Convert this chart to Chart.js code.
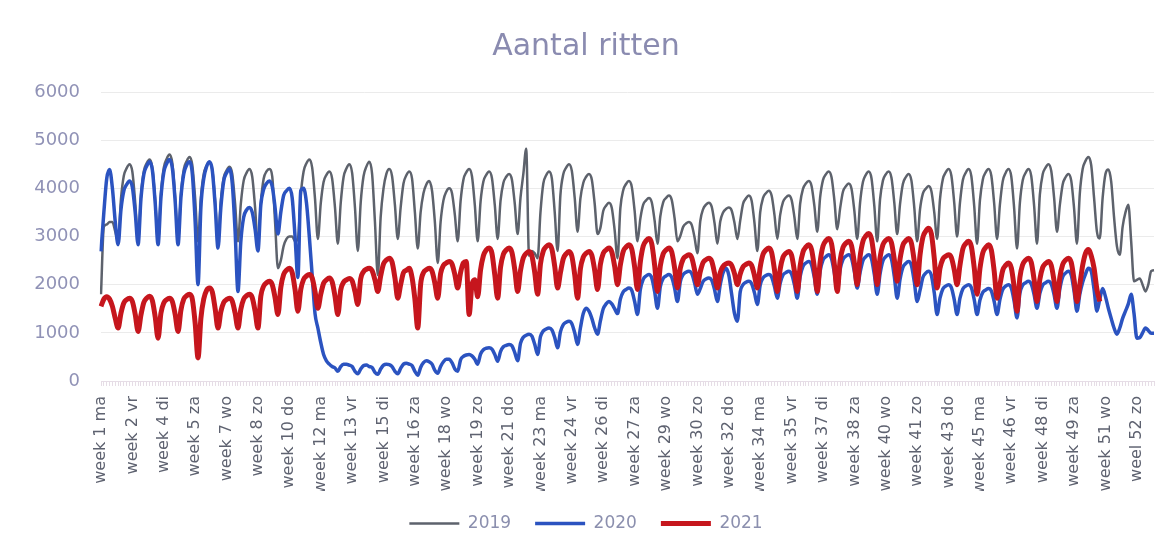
<!DOCTYPE html>
<html lang="nl">
<head>
<meta charset="utf-8">
<title>Aantal ritten</title>
<script src="https://cdn.jsdelivr.net/npm/chart.js@4.4.1/dist/chart.umd.min.js"></script>
<style>
  html, body { margin: 0; padding: 0; background: #ffffff; }
  #wrap { width: 1168px; height: 546px; }
</style>
</head>
<body>
<div id="wrap"><canvas id="ritten" width="1168" height="546"></canvas></div>
<script>
// dagen van de week, labels op de x-as: "week N dag"
const dagen = ['ma', 'di', 'wo', 'do', 'vr', 'za', 'zo'];
const aantalDagen = 370;
const labelStap = 11;

// ritten per dag, één regel per week (ma..zo)
const ritten2019 = [
  1800, 3200, 3250, 3300, 3300, 3100, 2900,
  3780, 4260, 4420, 4500, 4340, 3700, 2900,
  3840, 4350, 4520, 4600, 4430, 3750, 2900,
  3890, 4430, 4610, 4700, 4520, 3800, 2900,
  3860, 4390, 4560, 4650, 4480, 3780, 2900,
  3810, 4300, 4470, 4550, 4390, 3730, 2900,
  3750, 4220, 4370, 4450, 4300, 3680, 2900,
  3680, 4160, 4320, 4400, 4240, 3600, 2800,
  3700, 4200, 4350, 4400, 4250, 3300, 2340,
  2500, 2800, 2950, 3000, 3000, 2900, 2950,
  3860, 4350, 4520, 4600, 4430, 3780, 2950,
  3680, 4130, 4280, 4350, 4200, 3600, 2850,
  3690, 4230, 4410, 4500, 4320, 3600, 2700,
  3700, 4250, 4450, 4550, 4300, 3300, 2200,
  3400, 4000, 4300, 4400, 4250, 3650, 2950,
  3600, 4100, 4270, 4350, 4200, 3500, 2750,
  3500, 3900, 4080, 4150, 3950, 3300, 2450,
  3300, 3750, 3930, 4000, 3900, 3450, 2900,
  3730, 4180, 4330, 4400, 4250, 3650, 2900,
  3720, 4140, 4280, 4350, 4210, 3650, 2950,
  3740, 4110, 4240, 4300, 4180, 3680, 3050,
  3800, 4300, 4820, 2600, 2700, 2650, 2550,
  3500, 4100, 4270, 4350, 4200, 3500, 2700,
  3870, 4290, 4430, 4500, 4360, 3800, 3100,
  3790, 4110, 4240, 4300, 4180, 3680, 3050,
  3180, 3530, 3640, 3700, 3590, 3130, 2550,
  3590, 3960, 4090, 4150, 4030, 3530, 2900,
  3370, 3660, 3750, 3800, 3710, 3330, 2850,
  3420, 3710, 3800, 3850, 3760, 3380, 2900,
  3010, 3200, 3270, 3300, 3240, 2980, 2650,
  3320, 3570, 3660, 3700, 3620, 3280, 2850,
  3310, 3500, 3570, 3600, 3540, 3280, 2950,
  3330, 3680, 3790, 3850, 3740, 3280, 2700,
  3500, 3800, 3900, 3950, 3850, 3450, 2950,
  3450, 3720, 3810, 3850, 3760, 3400, 2950,
  3680, 3990, 4100, 4150, 4050, 3630, 3100,
  3810, 4170, 4290, 4350, 4230, 3750, 3150,
  3580, 3930, 4040, 4100, 3990, 3530, 2950,
  3700, 4130, 4280, 4350, 4210, 3630, 2900,
  3770, 4160, 4290, 4350, 4220, 3700, 3050,
  3670, 4090, 4230, 4300, 4160, 3600, 2900,
  3560, 3890, 3990, 4050, 3940, 3500, 2950,
  3770, 4190, 4330, 4400, 4260, 3700, 3000,
  3700, 4170, 4320, 4400, 4250, 3630, 2850,
  3750, 4180, 4330, 4400, 4260, 3680, 2950,
  3660, 4150, 4320, 4400, 4240, 3580, 2750,
  3700, 4170, 4320, 4400, 4250, 3630, 2850,
  3870, 4290, 4430, 4500, 4360, 3800, 3100,
  3650, 4080, 4230, 4300, 4160, 3580, 2850,
  3890, 4400, 4570, 4650, 4480, 3800, 3100,
  2960, 3800, 4300, 4390, 4140, 3400, 2800,
  2620, 3200, 3500, 3660, 2900, 2070, 2100,
  2130, 2000, 1860, 2000, 2280, 2300
];

const ritten2020 = [
  2690, 3500, 4200, 4390, 4000, 3300, 2830,
  3560, 3950, 4080, 4150, 4020, 3490, 2830,
  3780, 4290, 4460, 4550, 4380, 3690, 2830,
  3800, 4330, 4510, 4600, 4420, 3720, 2830,
  3800, 4300, 4480, 4550, 4300, 3300, 2000,
  3600, 4200, 4450, 4550, 4370, 3650, 2760,
  3600, 4150, 4320, 4400, 4100, 3100, 1860,
  2900, 3400, 3550, 3600, 3500, 3150, 2700,
  3650, 3980, 4100, 4150, 4040, 3600, 3050,
  3500, 3850, 3950, 4000, 3800, 3000, 2150,
  3950, 4000, 3700, 3000, 2200, 1400, 1100,
  800, 550, 420, 350, 300, 270, 200,
  300, 350, 350, 330, 300, 200, 150,
  250, 320, 330, 300, 280, 180, 140,
  250, 330, 350, 340, 300, 200, 150,
  260, 350, 370, 350, 320, 200, 120,
  280, 380, 420, 400, 350, 220, 160,
  300, 400, 450, 450, 380, 250, 200,
  440, 510, 540, 550, 520, 450, 350,
  560, 650, 680, 690, 660, 550, 410,
  610, 710, 740, 760, 730, 590, 420,
  780, 910, 950, 970, 930, 760, 550,
  920, 1040, 1080, 1100, 1060, 900, 690,
  1020, 1170, 1220, 1240, 1190, 1000, 760,
  1100, 1400, 1510, 1450, 1300, 1100, 970,
  1250, 1500, 1600, 1650, 1600, 1500, 1400,
  1700, 1850, 1900, 1930, 1880, 1650, 1380,
  1900, 2110, 2180, 2210, 2140, 1860, 1510,
  1960, 2130, 2180, 2210, 2150, 1930, 1650,
  2060, 2210, 2260, 2280, 2230, 2040, 1800,
  1920, 2070, 2120, 2140, 2090, 1900, 1650,
  2000, 2250, 2340, 2200, 1800, 1400, 1240,
  1850, 2000, 2050, 2070, 2020, 1830, 1590,
  1990, 2140, 2190, 2210, 2160, 1960, 1720,
  2030, 2200, 2250, 2280, 2220, 2000, 1720,
  2170, 2380, 2450, 2480, 2410, 2140, 1800,
  2280, 2510, 2580, 2620, 2540, 2240, 1860,
  2310, 2520, 2590, 2620, 2550, 2270, 1930,
  2250, 2500, 2580, 2620, 2540, 2210, 1800,
  2220, 2490, 2580, 2620, 2530, 2170, 1720,
  2110, 2360, 2440, 2480, 2400, 2060, 1650,
  1880, 2150, 2240, 2280, 2190, 1830, 1380,
  1720, 1910, 1970, 2000, 1940, 1690, 1380,
  1720, 1910, 1970, 2000, 1940, 1690, 1380,
  1680, 1840, 1890, 1920, 1870, 1650, 1380,
  1690, 1900, 1970, 2000, 1930, 1650, 1310,
  1820, 1990, 2040, 2070, 2010, 1790, 1510,
  1820, 1990, 2040, 2070, 2010, 1790, 1510,
  1910, 2160, 2240, 2280, 2200, 1860, 1450,
  1800, 2050, 2220, 2340, 2280, 1900, 1450,
  1700, 1920, 1750, 1510, 1300, 1100, 970,
  1100, 1300, 1450, 1600, 1800, 1400, 890,
  900, 1000, 1100, 1050, 990, 990
];

const ritten2021 = [
  1550, 1700, 1750, 1700, 1550, 1300, 1100,
  1410, 1620, 1690, 1720, 1650, 1380, 1030,
  1370, 1630, 1720, 1760, 1670, 1330, 890,
  1410, 1620, 1690, 1720, 1650, 1380, 1030,
  1470, 1700, 1770, 1800, 1700, 1200, 480,
  1300, 1700, 1880, 1930, 1850, 1500, 1100,
  1440, 1630, 1690, 1720, 1660, 1410, 1100,
  1490, 1700, 1770, 1800, 1730, 1450, 1100,
  1760, 1970, 2040, 2070, 2000, 1730, 1380,
  1940, 2210, 2300, 2340, 2250, 1900, 1450,
  1900, 2110, 2180, 2210, 2140, 1860, 1510,
  1800, 2030, 2100, 2140, 2060, 1760, 1380,
  1890, 2050, 2100, 2130, 2080, 1860, 1590,
  2120, 2270, 2320, 2340, 2290, 2100, 1860,
  2180, 2430, 2510, 2550, 2470, 2140, 1720,
  2000, 2250, 2300, 2340, 2150, 1700, 1100,
  2000, 2250, 2310, 2340, 2280, 2030, 1720,
  2230, 2400, 2450, 2480, 2430, 2210, 1930,
  2250, 2450, 2480, 1380, 2000, 2100, 1750,
  2300, 2600, 2720, 2760, 2650, 2200, 1720,
  2360, 2630, 2720, 2760, 2670, 2310, 1860,
  2290, 2560, 2650, 2690, 2600, 2250, 1800,
  2430, 2700, 2790, 2830, 2740, 2380, 1930,
  2250, 2540, 2640, 2690, 2590, 2210, 1720,
  2330, 2570, 2650, 2690, 2610, 2300, 1900,
  2420, 2650, 2720, 2760, 2680, 2380, 2000,
  2410, 2690, 2780, 2830, 2740, 2370, 1900,
  2470, 2800, 2910, 2960, 2850, 2410, 1860,
  2390, 2640, 2720, 2760, 2680, 2350, 1930,
  2340, 2530, 2590, 2620, 2560, 2310, 2000,
  2270, 2460, 2520, 2550, 2490, 2240, 1930,
  2250, 2380, 2430, 2450, 2400, 2230, 2000,
  2220, 2370, 2420, 2450, 2400, 2190, 1930,
  2360, 2630, 2720, 2760, 2670, 2310, 1860,
  2320, 2570, 2650, 2690, 2610, 2280, 1860,
  2390, 2680, 2780, 2830, 2730, 2350, 1860,
  2470, 2800, 2910, 2960, 2850, 2410, 1860,
  2500, 2770, 2860, 2900, 2810, 2450, 2000,
  2580, 2900, 3010, 3060, 2950, 2530, 2000,
  2560, 2830, 2920, 2960, 2870, 2520, 2070,
  2530, 2820, 2910, 2960, 2860, 2480, 2000,
  2610, 2980, 3110, 3170, 3050, 2550, 1930,
  2340, 2530, 2590, 2620, 2560, 2310, 2000,
  2400, 2740, 2850, 2900, 2790, 2350, 1800,
  2330, 2660, 2770, 2830, 2720, 2280, 1720,
  2000, 2300, 2400, 2450, 2350, 1950, 1450,
  2150, 2420, 2510, 2550, 2460, 2100, 1650,
  2110, 2360, 2440, 2480, 2400, 2070, 1650,
  2150, 2420, 2510, 2550, 2460, 2100, 1650,
  2000, 2400, 2650, 2730, 2600, 2340, 1900,
  1650
];

const yTicks = [0, 1000, 2000, 3000, 4000, 5000, 6000];

const labels = [];
for (let i = 0; i < aantalDagen; i++) {
  labels.push('week ' + (Math.floor(i / 7) + 1) + ' ' + dagen[i % 7]);
}
labels[363] = 'weel 52 zo';

Chart.defaults.font.family = "'DejaVu Sans', sans-serif";

const ctx = document.getElementById('ritten');
new Chart(ctx, {
  type: 'line',
  data: {
    labels: labels,
    datasets: [
      {
        label: '2019',
        data: ritten2019,
        borderColor: '#5d626c',
        backgroundColor: '#5d626c',
        borderWidth: 2.5,
        pointRadius: 0,
        cubicInterpolationMode: 'monotone',
        order: 2
      },
      {
        label: '2020',
        data: ritten2020,
        borderColor: '#2b53c0',
        backgroundColor: '#2b53c0',
        borderWidth: 3.5,
        pointRadius: 0,
        cubicInterpolationMode: 'monotone',
        order: 1
      },
      {
        label: '2021',
        data: ritten2021,
        borderColor: '#c6161d',
        backgroundColor: '#c6161d',
        borderWidth: 5,
        pointRadius: 0,
        cubicInterpolationMode: 'monotone',
        order: 0
      }
    ]
  },
  options: {
    responsive: false,
    animation: false,
    devicePixelRatio: 1,
    layout: { padding: { left: 18, right: 14, top: 0, bottom: 4 } },
    plugins: {
      title: {
        display: true,
        text: 'Aantal ritten',
        color: '#8a8bb0',
        font: { size: 30, weight: 'normal' },
        padding: { top: 29, bottom: 27 }
      },
      legend: {
        position: 'bottom',
        labels: {
          usePointStyle: true,
          pointStyle: 'line',
          pointStyleWidth: 50,
          color: '#8b8fae',
          font: { size: 17 },
          padding: 24,
          sort: (a, b) => a.datasetIndex - b.datasetIndex
        }
      },
      tooltip: { enabled: false }
    },
    scales: {
      x: {
        afterFit: (axis) => {
          axis.height = 110;
          axis.paddingLeft = 0;
          axis.paddingRight = 0;
        },
        grid: {
          drawOnChartArea: false,
          drawTicks: true,
          tickLength: 5,
          color: '#e6dde6'
        },
        border: { color: '#e6dde6' },
        ticks: {
          autoSkip: false,
          maxRotation: 90,
          minRotation: 90,
          padding: 10,
          color: '#5e6270',
          font: { size: 16 },
          callback: (val, idx) => (idx % labelStap === 0 ? labels[idx] : '')
        }
      },
      y: {
        min: 0,
        max: 6000,
        afterFit: (axis) => { axis.width = 83; },
        afterBuildTicks: (axis) => { axis.ticks = yTicks.map(v => ({ value: v })); },
        grid: { color: '#ebebeb', drawTicks: false },
        border: { display: false },
        ticks: {
          padding: 21,
          color: '#9092b6',
          font: { size: 18 },
          callback: (v) => String(v)
        }
      }
    }
  }
});
</script>
</body>
</html>
